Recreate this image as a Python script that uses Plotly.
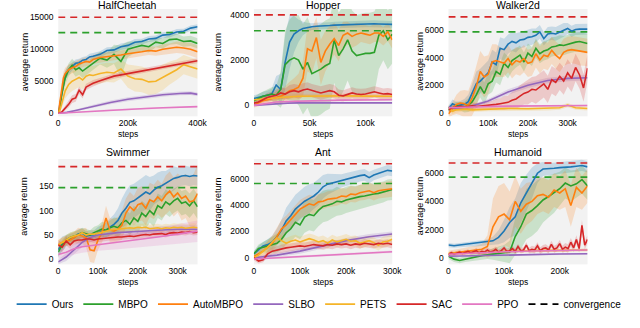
import plotly.graph_objects as go
from plotly.subplots import make_subplots

# steps are stored in thousands (k)

# ---------------- HalfCheetah ----------------
HC_X = [0, 5, 10, 15, 20, 30, 40, 50, 60, 70, 80, 90, 100, 120, 140, 160, 180, 200, 220, 240, 260, 280, 300, 320, 340, 360, 380, 400]
HC_OURS = [0, 1500, 3500, 5000, 5900, 6800, 7300, 7800, 7900, 8300, 8400, 8800, 8900, 9200, 9800, 9900, 10400, 10600, 11100, 11200, 11600, 11700, 12200, 12300, 12700, 12800, 13300, 13500]
HC_OURS_SD = [0, 600, 900, 900, 800, 700, 600, 600, 600, 500, 500, 500, 500, 500, 500, 500, 500, 500, 500, 450, 450, 450, 450, 450, 450, 400, 400, 400]
HC_MBPO = [0, 1000, 3000, 4500, 5500, 6800, 7500, 6800, 7100, 6600, 7000, 7400, 7800, 8600, 8300, 9200, 8100, 10000, 10300, 10600, 10400, 11100, 10900, 11500, 11600, 11200, 11300, 10900]
HC_MBPO_SD = [0, 500, 900, 1000, 1000, 1000, 1000, 1100, 1100, 1100, 1000, 1000, 1000, 1000, 1200, 1500, 2500, 1200, 900, 900, 900, 800, 800, 800, 800, 800, 800, 800]
HC_AUTO = [0, 2000, 4000, 5500, 6200, 6800, 7100, 7300, 7700, 7900, 8100, 8000, 8400, 8700, 8800, 9000, 9100, 9300, 9400, 9600, 9800, 9700, 10000, 10100, 10300, 10200, 10000, 9600]
HC_AUTO_SD = [0, 700, 1000, 1000, 900, 800, 800, 800, 700, 700, 700, 700, 700, 700, 700, 700, 700, 700, 700, 700, 700, 700, 800, 800, 900, 900, 1000, 1000]
HC_PETS = [0, 500, 1500, 2500, 3500, 4500, 5000, 5300, 5600, 5200, 5800, 6000, 5900, 6200, 6400, 6300, 6900, 5800, 5400, 5300, 4900, 5000, 5600, 6300, 6800, 7600, 7200, 6900]
HC_PETS_SD = [0, 300, 700, 1000, 1200, 1500, 1500, 1500, 1500, 1500, 1500, 1500, 1500, 1500, 1500, 1500, 1500, 1800, 2000, 2000, 2000, 2000, 2000, 1800, 1600, 1500, 1500, 1500]
HC_SAC = [0, 100, 200, 500, 800, 1400, 2200, 2400, 3600, 2900, 4100, 4400, 4700, 5100, 5500, 5800, 6000, 6200, 6400, 6600, 6800, 7000, 7300, 7500, 7700, 7900, 8100, 8200]
HC_SAC_SD = [0, 100, 150, 300, 400, 500, 600, 600, 600, 600, 500, 500, 500, 400, 400, 400, 400, 400, 400, 400, 400, 400, 400, 400, 400, 400, 400, 400]
HC_S_X = [0, 25, 50, 100, 150, 200, 250, 300, 350, 380, 400]
HC_SLBO = [0, 150, 450, 1100, 1700, 2200, 2600, 2900, 3100, 3150, 2950]
HC_SLBO_SD = [0, 100, 150, 250, 300, 300, 300, 300, 300, 300, 300]
HC_PPO = [0, 80, 180, 380, 520, 650, 760, 860, 950, 1000, 1050]
HC_PPO_SD = [0, 30, 50, 80, 100, 100, 100, 100, 100, 100, 100]
HC_CONV = [15000, 12600]

# ---------------- Hopper ----------------
HP_X = [0, 4, 8, 12, 16, 20, 24, 28, 32, 36, 40, 44, 48, 52, 56, 60, 64, 68, 72, 76, 80, 84, 88, 92, 96, 100, 104, 108, 112, 116, 120, 124]
HP_OURS = [300, 350, 400, 450, 500, 900, 700, 1900, 2800, 3150, 3300, 3400, 3450, 3480, 3500, 3500, 3520, 3530, 3550, 3560, 3570, 3580, 3590, 3590, 3600, 3600, 3600, 3610, 3600, 3600, 3590, 3580]
HP_OURS_SD = [150, 150, 200, 200, 250, 400, 700, 1200, 1200, 800, 500, 300, 200, 150, 150, 150, 150, 150, 150, 150, 150, 150, 150, 150, 150, 150, 150, 150, 150, 150, 150, 150]
HP_MBPO = [200, 300, 400, 450, 500, 450, 700, 1800, 2000, 2100, 2000, 1600, 1900, 1400, 1500, 1600, 1750, 1850, 2900, 2200, 2500, 2900, 2400, 2200, 2250, 2300, 2300, 2350, 3100, 3300, 2900, 3150]
HP_MBPO_SD = [150, 200, 200, 250, 300, 400, 800, 1500, 1800, 1900, 2000, 2000, 2000, 2000, 2000, 2000, 2000, 2000, 1900, 1900, 1900, 1800, 1800, 1800, 1800, 1800, 1800, 1800, 1500, 1300, 1300, 1300]
HP_AUTO = [0, 100, 200, 250, 300, 350, 400, 500, 650, 700, 800, 1200, 2500, 2400, 3000, 1900, 2400, 2700, 2950, 2650, 3100, 3200, 3050, 3150, 3200, 3150, 3100, 3200, 3200, 3050, 3250, 2900]
HP_AUTO_SD = [100, 150, 150, 200, 200, 250, 300, 350, 400, 500, 600, 800, 1000, 1000, 900, 1000, 900, 800, 700, 700, 600, 500, 500, 500, 400, 400, 400, 400, 400, 400, 400, 400]
HP_SAC = [100, 150, 250, 350, 400, 450, 550, 500, 600, 650, 600, 680, 720, 650, 600, 550, 600, 650, 600, 450, 420, 500, 550, 500, 480, 500, 550, 600, 550, 500, 520, 480]
HP_SAC_SD = [100, 150, 150, 200, 200, 250, 250, 250, 300, 300, 300, 300, 300, 300, 300, 300, 300, 300, 300, 250, 250, 250, 250, 250, 250, 250, 250, 250, 250, 250, 250, 250]
HP_S_X = [0, 10, 20, 30, 40, 60, 80, 100, 124]
HP_PETS = [250, 300, 330, 370, 400, 420, 420, 410, 400]
HP_PETS_SD = [100, 100, 100, 100, 100, 100, 100, 100, 100]
HP_SLBO = [0, 40, 80, 100, 110, 110, 110, 110, 110]
HP_SLBO_SD = [20, 20, 20, 20, 20, 20, 20, 20, 20]
HP_PPO = [0, 80, 150, 170, 190, 210, 230, 240, 250]
HP_PPO_SD = [30, 30, 30, 30, 30, 30, 30, 30, 30]
HP_CONV = [4000, 3300]

# ---------------- Walker2d ----------------
WK_X = [0, 10, 20, 30, 40, 50, 60, 70, 80, 90, 100, 110, 120, 130, 140, 150, 160, 170, 180, 190, 200, 210, 220, 230, 240, 250, 260, 270, 280, 290, 300, 310, 320, 330, 340, 350]
WK_OURS = [300, 650, 500, 550, 600, 800, 1400, 2100, 2300, 2600, 2900, 3700, 3500, 4700, 4600, 5000, 5200, 5100, 5300, 5350, 5500, 5550, 5650, 5900, 5400, 5750, 5800, 5750, 5900, 6050, 6150, 5950, 6080, 6100, 6100, 6100]
WK_OURS_SD = [200, 300, 300, 300, 400, 500, 700, 900, 900, 900, 900, 900, 900, 800, 800, 700, 700, 700, 600, 600, 600, 600, 500, 500, 500, 500, 500, 500, 500, 500, 400, 400, 400, 400, 400, 400]
WK_MBPO = [200, 350, 500, 450, 400, 550, 800, 1300, 1900, 1400, 2100, 2300, 3000, 2800, 3600, 3300, 3800, 4000, 4200, 3700, 4350, 4100, 4700, 4300, 4500, 4600, 4800, 4850, 4950, 4900, 5000, 5100, 5150, 5200, 5100, 5050]
WK_MBPO_SD = [200, 300, 300, 300, 400, 500, 600, 700, 800, 800, 800, 800, 800, 800, 800, 800, 800, 700, 700, 700, 700, 700, 700, 700, 700, 700, 700, 700, 700, 700, 700, 700, 700, 700, 700, 700]
WK_AUTO = [-100, 300, 600, 700, 650, 500, 1100, 1900, 3000, 2600, 2800, 3700, 3800, 3700, 3600, 3950, 3500, 3800, 3700, 3950, 3600, 3700, 4300, 3850, 4200, 4100, 4550, 4200, 3950, 4400, 4550, 4600, 4550, 4450, 4400, 4400]
WK_AUTO_SD = [300, 500, 700, 900, 1000, 1100, 1300, 1500, 1500, 1500, 1400, 1300, 1200, 1100, 1000, 1000, 1000, 1000, 1000, 1000, 1000, 1000, 1000, 1000, 1000, 1000, 1000, 1000, 1000, 1000, 1000, 1000, 1000, 1000, 1000, 1000]
WK_SAC = [200, 350, 400, 450, 400, 450, 500, 450, 480, 500, 500, 550, 600, 650, 700, 750, 900, 1000, 1200, 1400, 1500, 1700, 1650, 1900, 2100, 1700, 2400, 2200, 2650, 2300, 2900, 2500, 3300, 2750, 1800, 3250]
WK_SAC_SD = [200, 200, 200, 200, 200, 200, 250, 250, 250, 300, 300, 300, 400, 400, 500, 500, 600, 700, 800, 800, 900, 900, 1000, 1000, 1000, 1000, 1000, 1000, 1000, 1000, 1000, 1000, 1000, 1000, 1000, 1000]
WK_S_X = [0, 20, 50, 100, 150, 200, 250, 300, 350]
WK_SLBO = [400, 300, 400, 850, 1500, 2000, 2350, 2500, 2550]
WK_SLBO_SD = [100, 100, 100, 150, 200, 200, 200, 200, 200]
WK_PPO = [350, 380, 400, 450, 470, 490, 500, 510, 520]
WK_PPO_SD = [50, 50, 50, 50, 50, 50, 50, 50, 50]
WK_PETS_X = [0, 10, 20, 40, 60, 100, 150, 200, 250, 280, 300, 320, 350]
WK_PETS = [400, 100, 200, 250, 200, 250, 300, 280, 300, 350, 550, 350, 300]
WK_PETS_SD = [200, 200, 200, 150, 150, 150, 150, 150, 150, 150, 150, 150, 150]
WK_CONV = [7000, 5900]

# ---------------- Swimmer ----------------
SW_X = [0, 10, 20, 30, 40, 50, 60, 70, 80, 90, 100, 110, 120, 130, 140, 150, 160, 170, 180, 190, 200, 210, 220, 230, 240, 250, 260, 270, 280, 290, 300, 310, 320, 330, 340, 350]
SW_OURS = [20, 32, 38, 42, 45, 52, 54, 48, 50, 50, 55, 58, 60, 66, 72, 80, 95, 105, 117, 120, 127, 132, 138, 134, 142, 148, 151, 156, 161, 166, 168, 171, 172, 170, 172, 171]
SW_OURS_SD = [15, 15, 12, 10, 10, 10, 10, 10, 10, 10, 12, 12, 15, 18, 20, 25, 30, 35, 35, 35, 35, 35, 35, 35, 30, 30, 30, 25, 25, 25, 20, 20, 20, 20, 20, 20]
SW_MBPO = [15, 30, 40, 45, 48, 50, 55, 52, 50, 55, 58, 62, 60, 65, 68, 65, 75, 80, 72, 85, 78, 95, 88, 100, 92, 110, 105, 118, 112, 120, 125, 115, 118, 110, 120, 108]
SW_MBPO_SD = [10, 10, 10, 10, 10, 10, 10, 10, 10, 12, 12, 15, 15, 15, 18, 20, 20, 22, 22, 25, 25, 25, 25, 25, 25, 25, 25, 25, 25, 25, 25, 25, 25, 25, 25, 25]
SW_AUTO = [30, 35, 38, 40, 45, 50, 48, 45, 20, 18, 40, 55, 85, 60, 58, 62, 70, 95, 108, 100, 112, 115, 105, 122, 118, 128, 120, 132, 140, 128, 136, 125, 130, 118, 120, 135]
SW_AUTO_SD = [10, 10, 10, 12, 12, 15, 15, 20, 25, 25, 20, 20, 25, 25, 25, 25, 30, 30, 30, 30, 35, 35, 35, 35, 35, 35, 35, 40, 40, 40, 40, 45, 45, 50, 55, 60]
SW_PETS = [30, 35, 40, 45, 48, 50, 55, 50, 52, 52, 54, 56, 57, 60, 62, 62, 63, 64, 65, 64, 66, 65, 66, 63, 64, 65, 63, 65, 64, 66, 65, 66, 64, 65, 66, 65]
SW_PETS_SD = [10, 10, 10, 10, 10, 10, 8, 8, 8, 8, 8, 8, 8, 8, 8, 8, 8, 8, 8, 8, 8, 8, 8, 8, 8, 8, 8, 8, 8, 8, 8, 8, 8, 8, 8, 8]
SW_SAC = [30, 25, 38, 30, 38, 40, 40, 42, 42, 40, 42, 43, 44, 45, 45, 46, 46, 47, 48, 47, 49, 50, 51, 50, 52, 52, 53, 51, 54, 55, 54, 56, 55, 57, 55, 56]
SW_SAC_SD = [10, 10, 10, 8, 8, 8, 6, 6, 6, 6, 6, 6, 6, 6, 6, 6, 6, 6, 6, 6, 6, 6, 6, 6, 6, 6, 6, 6, 6, 6, 6, 6, 6, 6, 6, 6]
SW_S_X = [0, 20, 40, 60, 80, 100, 150, 200, 250, 300, 350]
SW_SLBO = [-5, 5, 20, 35, 45, 50, 55, 58, 60, 62, 62]
SW_SLBO_SD = [5, 8, 10, 10, 10, 8, 8, 8, 8, 8, 8]
SW_PPO = [10, 15, 22, 26, 28, 30, 35, 40, 46, 52, 58]
SW_PPO_SD = [8, 10, 12, 12, 12, 12, 14, 16, 18, 20, 22]
SW_CONV = [190, 147]

# ---------------- Ant ----------------
AN_X = [0, 10, 20, 30, 40, 50, 60, 70, 80, 90, 100, 110, 120, 130, 140, 150, 160, 170, 180, 190, 200, 210, 220, 230, 240, 250, 260, 270, 280, 290, 300]
AN_OURS = [300, 600, 900, 1000, 1200, 1600, 2100, 2800, 3200, 3700, 4000, 4300, 4500, 4700, 5000, 5400, 5600, 5700, 5750, 5850, 5950, 6050, 6150, 6250, 6300, 6100, 6300, 6400, 6550, 6650, 6600]
AN_OURS_SD = [200, 300, 300, 400, 500, 600, 800, 1000, 1100, 1100, 1100, 1100, 1100, 1000, 1000, 900, 800, 700, 600, 500, 500, 500, 500, 450, 450, 450, 400, 400, 400, 400, 400]
AN_MBPO = [300, 700, 800, 900, 950, 1100, 1400, 1900, 2200, 2700, 2500, 3100, 3300, 3200, 3600, 3900, 4000, 4100, 4300, 4250, 4400, 4500, 4550, 4650, 4700, 4800, 4850, 4900, 5000, 5150, 5200]
AN_MBPO_SD = [200, 300, 400, 500, 600, 700, 800, 900, 1000, 1100, 1100, 1200, 1200, 1200, 1200, 1200, 1200, 1100, 1100, 1000, 1000, 1000, 900, 900, 900, 900, 800, 800, 800, 800, 800]
AN_AUTO = [100, 300, 500, 800, 1100, 1600, 2200, 2500, 2900, 3300, 3700, 3900, 4100, 4000, 4250, 4300, 4450, 4500, 4550, 4700, 4650, 4850, 4800, 4950, 5000, 5100, 4950, 5100, 5150, 5200, 5250]
AN_AUTO_SD = [200, 300, 400, 500, 600, 700, 700, 700, 700, 700, 700, 700, 700, 700, 600, 600, 600, 600, 600, 600, 600, 600, 600, 600, 600, 600, 600, 600, 600, 600, 600]
AN_PETS = [0, 200, 500, 800, 1200, 1500, 1300, 1100, 1250, 1350, 1200, 1300, 1450, 1350, 1200, 1300, 1100, 1350, 1200, 1300, 1400, 1250, 1300, 1100, 1200, 1300, 1150, 950, 1200, 1250, 1400]
AN_PETS_SD = [100, 200, 300, 400, 400, 400, 400, 400, 400, 400, 400, 400, 400, 400, 400, 400, 400, 400, 400, 400, 400, 400, 400, 400, 400, 400, 400, 400, 400, 400, 400]
AN_SAC = [0, -250, -150, 300, 500, 600, 700, 750, 800, 850, 900, 850, 950, 1000, 950, 900, 1000, 950, 1050, 1000, 1050, 950, 1050, 1000, 1100, 1050, 1000, 1100, 1050, 1100, 1000]
AN_SAC_SD = [200, 200, 200, 250, 250, 300, 300, 300, 300, 300, 300, 300, 300, 300, 300, 300, 300, 300, 300, 300, 300, 300, 300, 300, 300, 300, 300, 300, 300, 300, 300]
AN_S_X = [0, 50, 100, 150, 200, 250, 300]
AN_SLBO = [0, 200, 500, 900, 1300, 1600, 1800]
AN_SLBO_SD = [100, 150, 200, 200, 200, 200, 200]
AN_PPO = [-100, 0, 100, 200, 300, 400, 450]
AN_PPO_SD = [80, 80, 100, 100, 100, 100, 100]
AN_CONV = [7150, 5650]

# ---------------- Humanoid ----------------
HM_X = [0, 10, 20, 30, 40, 50, 60, 70, 80, 90, 100, 110, 120, 130, 140, 150, 160, 170, 180, 190, 200, 210, 220, 230, 240, 250]
HM_OURS = [900, 850, 900, 950, 950, 1000, 1050, 1100, 1200, 1450, 1900, 2500, 2900, 3900, 4600, 5300, 6000, 6300, 6300, 6350, 6400, 6400, 6450, 6500, 6550, 6450]
HM_OURS_SD = [150, 150, 150, 150, 150, 200, 200, 200, 300, 500, 800, 1100, 1300, 1400, 1300, 1100, 700, 500, 400, 400, 400, 400, 400, 400, 400, 400]
HM_MBPO = [100, -100, -200, -100, 0, 100, 150, 200, 250, 300, 300, 400, 1500, 2200, 3100, 3350, 3700, 4100, 4350, 4600, 4900, 5300, 5100, 5250, 5550, 5100]
HM_MBPO_SD = [200, 200, 200, 200, 200, 250, 300, 300, 400, 500, 600, 800, 1300, 1600, 1800, 1800, 1800, 1600, 1500, 1400, 1200, 1100, 1100, 1000, 1000, 1000]
HM_AUTO = [300, 350, 400, 450, 500, 550, 600, 800, 2200, 2900, 3100, 2700, 4000, 3300, 3800, 4000, 4400, 4500, 4300, 4800, 4600, 4900, 3700, 5000, 4600, 5100]
HM_AUTO_SD = [200, 200, 200, 250, 300, 300, 400, 800, 2000, 2200, 2200, 2000, 1800, 1600, 1500, 1400, 1300, 1200, 1200, 1200, 1200, 1300, 1500, 1400, 1200, 1200]
HM_SAC_X = [0, 5, 10, 15, 20, 25, 30, 35, 40, 45, 50, 55, 60, 65, 70, 75, 80, 85, 90, 95, 100, 105, 110, 115, 120, 125, 130, 135, 140, 145, 150, 155, 160, 165, 170, 175, 180, 185, 190, 195, 200, 205, 210, 215, 220, 225, 230, 235, 240, 245, 250]
HM_SAC = [200, 350, 250, 300, 400, 300, 350, 450, 350, 400, 500, 350, 450, 400, 550, 400, 450, 600, 400, 500, 700, 450, 500, 650, 450, 800, 500, 550, 900, 500, 600, 550, 850, 500, 650, 700, 550, 950, 600, 700, 1000, 600, 750, 650, 1100, 700, 1300, 650, 2300, 900, 1300]
HM_SAC_SD = [100, 150, 150, 150, 150, 150, 150, 150, 150, 150, 200, 200, 200, 200, 200, 200, 200, 200, 200, 200, 200, 200, 200, 200, 200, 200, 200, 200, 200, 200, 250, 250, 250, 250, 250, 250, 250, 250, 250, 250, 250, 250, 300, 300, 300, 300, 300, 300, 400, 300, 300]
HM_S_X = [0, 50, 100, 150, 200, 250]
HM_PETS = [300, 380, 450, 500, 520, 550]
HM_PETS_SD = [100, 100, 100, 100, 100, 100]
HM_SLBO = [100, 150, 200, 230, 260, 280]
HM_SLBO_SD = [60, 60, 60, 60, 60, 60]
HM_PPO = [250, 350, 420, 480, 520, 550]
HM_PPO_SD = [80, 80, 80, 80, 80, 80]
HM_CONV = [6730, 5720]

# ---------------- ticks ----------------
HC_XTICKS, HC_XLABELS = [0, 200, 400], ["0", "200k", "400k"]
HP_XTICKS, HP_XLABELS = [0, 50, 100], ["0", "50k", "100k"]
K300_XTICKS, K300_XLABELS = [0, 100, 200, 300], ["0", "100k", "200k", "300k"]
HM_XTICKS, HM_XLABELS = [0, 100, 200], ["0", "100k", "200k"]
HC_YTICKS = [0, 5000, 10000, 15000]
HP_YTICKS = [0, 2000, 4000]
K6_YTICKS = [0, 2000, 4000, 6000]
SW_YTICKS = [0, 50, 100, 150]

NAMES = ["Ours", "MBPO", "AutoMBPO", "SLBO", "PETS", "SAC", "PPO"]
COLORS = {
    "Ours": "#1f77b4", "MBPO": "#2ca02c", "AutoMBPO": "#ff7f0e", "SLBO": "#9467bd",
    "PETS": "#f5b428", "SAC": "#d62728", "PPO": "#e377c2",
}
FONT = "Liberation Sans, Arial, sans-serif"
W, H = 640, 328
COL_PX = [(57.3, 199.3), (256.7, 397.7), (455, 596.7)]
ROW_PX = [(9, 117), (160, 266)]


def band_color(hex_color, alpha=0.2):
    h = hex_color.lstrip("#")
    r, g, b = int(h[0:2], 16), int(h[2:4], 16), int(h[4:6], 16)
    return f"rgba({r},{g},{b},{alpha})"


PANELS = [
    dict(title="HalfCheetah", row=1, col=1, xr=[0, 400], yr=[-465, 16290],
         xt=(HC_XTICKS, HC_XLABELS), yt=HC_YTICKS, conv=HC_CONV,
         series={"Ours": (HC_X, HC_OURS, HC_OURS_SD), "MBPO": (HC_X, HC_MBPO, HC_MBPO_SD),
                 "AutoMBPO": (HC_X, HC_AUTO, HC_AUTO_SD), "SLBO": (HC_S_X, HC_SLBO, HC_SLBO_SD),
                 "PETS": (HC_X, HC_PETS, HC_PETS_SD), "SAC": (HC_X, HC_SAC, HC_SAC_SD),
                 "PPO": (HC_S_X, HC_PPO, HC_PPO_SD)}),
    dict(title="Hopper", row=1, col=2, xr=[0, 124], yr=[-483, 4264],
         xt=(HP_XTICKS, HP_XLABELS), yt=HP_YTICKS, conv=HP_CONV,
         series={"Ours": (HP_X, HP_OURS, HP_OURS_SD), "MBPO": (HP_X, HP_MBPO, HP_MBPO_SD),
                 "AutoMBPO": (HP_X, HP_AUTO, HP_AUTO_SD), "SLBO": (HP_S_X, HP_SLBO, HP_SLBO_SD),
                 "PETS": (HP_S_X, HP_PETS, HP_PETS_SD), "SAC": (HP_X, HP_SAC, HP_SAC_SD),
                 "PPO": (HP_S_X, HP_PPO, HP_PPO_SD)}),
    dict(title="Walker2d", row=1, col=3, xr=[0, 350], yr=[-270, 7576],
         xt=(K300_XTICKS, K300_XLABELS), yt=K6_YTICKS, conv=WK_CONV,
         series={"Ours": (WK_X, WK_OURS, WK_OURS_SD), "MBPO": (WK_X, WK_MBPO, WK_MBPO_SD),
                 "AutoMBPO": (WK_X, WK_AUTO, WK_AUTO_SD), "SLBO": (WK_S_X, WK_SLBO, WK_SLBO_SD),
                 "PETS": (WK_PETS_X, WK_PETS, WK_PETS_SD), "SAC": (WK_X, WK_SAC, WK_SAC_SD),
                 "PPO": (WK_S_X, WK_PPO, WK_PPO_SD)}),
    dict(title="Swimmer", row=2, col=1, xr=[0, 350], yr=[-10, 205.6],
         xt=(K300_XTICKS, K300_XLABELS), yt=SW_YTICKS, conv=SW_CONV,
         series={"Ours": (SW_X, SW_OURS, SW_OURS_SD), "MBPO": (SW_X, SW_MBPO, SW_MBPO_SD),
                 "AutoMBPO": (SW_X, SW_AUTO, SW_AUTO_SD), "SLBO": (SW_S_X, SW_SLBO, SW_SLBO_SD),
                 "PETS": (SW_X, SW_PETS, SW_PETS_SD), "SAC": (SW_X, SW_SAC, SW_SAC_SD),
                 "PPO": (SW_S_X, SW_PPO, SW_PPO_SD)}),
    dict(title="Ant", row=2, col=2, xr=[0, 300], yr=[-507, 7513],
         xt=(K300_XTICKS, K300_XLABELS), yt=K6_YTICKS, conv=AN_CONV,
         series={"Ours": (AN_X, AN_OURS, AN_OURS_SD), "MBPO": (AN_X, AN_MBPO, AN_MBPO_SD),
                 "AutoMBPO": (AN_X, AN_AUTO, AN_AUTO_SD), "SLBO": (AN_S_X, AN_SLBO, AN_SLBO_SD),
                 "PETS": (AN_X, AN_PETS, AN_PETS_SD), "SAC": (AN_X, AN_SAC, AN_SAC_SD),
                 "PPO": (AN_S_X, AN_PPO, AN_PPO_SD)}),
    dict(title="Humanoid", row=2, col=3, xr=[0, 250], yr=[-473, 7009],
         xt=(HM_XTICKS, HM_XLABELS), yt=K6_YTICKS, conv=HM_CONV,
         series={"Ours": (HM_X, HM_OURS, HM_OURS_SD), "MBPO": (HM_X, HM_MBPO, HM_MBPO_SD),
                 "AutoMBPO": (HM_X, HM_AUTO, HM_AUTO_SD), "SLBO": (HM_S_X, HM_SLBO, HM_SLBO_SD),
                 "PETS": (HM_S_X, HM_PETS, HM_PETS_SD), "SAC": (HM_SAC_X, HM_SAC, HM_SAC_SD),
                 "PPO": (HM_S_X, HM_PPO, HM_PPO_SD)}),
]

fig = make_subplots(rows=2, cols=3)
annotations = []

for i, p in enumerate(PANELS):
    r, c = p["row"], p["col"]
    first = i == 0
    # shaded std bands
    for name in NAMES:
        x, m, sd = p["series"][name]
        assert len(x) == len(m) == len(sd), (p["title"], name)
        up = [a + b for a, b in zip(m, sd)]
        lo = [a - b for a, b in zip(m, sd)]
        fig.add_trace(go.Scatter(x=x + x[::-1], y=up + lo[::-1], mode="lines", fill="toself",
                                 fillcolor=band_color(COLORS[name]), line=dict(width=0),
                                 hoverinfo="skip", showlegend=False), row=r, col=c)
    # convergence levels
    xs = [p["xr"][0], p["xr"][1]]
    for val, col in zip(p["conv"], [COLORS["SAC"], COLORS["MBPO"]]):
        fig.add_trace(go.Scatter(x=xs, y=[val, val], mode="lines", showlegend=False,
                                 line=dict(color=col, width=1.6, dash="7px,5px")), row=r, col=c)
    # mean curves
    for name in NAMES:
        x, m, sd = p["series"][name]
        fig.add_trace(go.Scatter(x=x, y=m, mode="lines", name=name, legendgroup=name,
                                 showlegend=first, line=dict(color=COLORS[name], width=1.6)),
                      row=r, col=c)

    x0, x1 = COL_PX[c - 1]
    y0, y1 = ROW_PX[r - 1]
    fig.update_xaxes(domain=[x0 / W, x1 / W], range=p["xr"], tickvals=p["xt"][0],
                     ticktext=p["xt"][1], row=r, col=c)
    fig.update_yaxes(domain=[1 - y1 / H, 1 - y0 / H], range=p["yr"], tickvals=p["yt"],
                     tickformat="d", row=r, col=c)

    cx = (x0 + x1) / 2 / W
    title_y = 5 if r == 1 else 153.3
    steps_y = 134.5 if r == 1 else 283.5
    ylab_y = 62 if r == 1 else 207.5
    ylab_x = [23, 220, 426][c - 1]
    annotations.append(dict(text=p["title"], x=cx, y=1 - title_y / H, xref="paper", yref="paper",
                            showarrow=False, xanchor="center", yanchor="middle",
                            font=dict(size=10.5, color="#000")))
    annotations.append(dict(text="steps", x=cx, y=1 - steps_y / H, xref="paper", yref="paper",
                            showarrow=False, xanchor="center", yanchor="middle",
                            font=dict(size=8.5, color="#000")))
    annotations.append(dict(text="average return", x=ylab_x / W, y=1 - ylab_y / H, xref="paper",
                            yref="paper", showarrow=False, textangle=-90, xanchor="center",
                            yanchor="middle", font=dict(size=9, color="#000")))

# legend entry for the dashed convergence levels
fig.add_trace(go.Scatter(x=[None], y=[None], mode="lines", name="convergence",
                         line=dict(color="black", width=1.6, dash="7px,5px")))

fig.update_xaxes(showgrid=False, zeroline=False, showline=False, ticks="",
                 tickfont=dict(size=8.5, color="#000"))
fig.update_yaxes(showgrid=False, zeroline=False, showline=False, ticks="outside", ticklen=2,
                 tickcolor="rgba(0,0,0,0)", tickfont=dict(size=8.5, color="#000"))

fig.update_layout(
    width=W, height=H, autosize=False,
    margin=dict(l=0, r=0, t=0, b=0),
    paper_bgcolor="white", plot_bgcolor="#f2f2f2",
    font=dict(family=FONT, color="#000"),
    annotations=annotations,
    legend=dict(orientation="h", x=0.505, xanchor="center", y=1 - 306 / H, yanchor="middle",
                font=dict(size=10), itemwidth=30, bgcolor="rgba(0,0,0,0)", traceorder="normal"),
)

# drop the browser's default body margin so the figure sits at the window's corner
fig.write_html("out.html", config={"displayModeBar": False},
               post_script="document.body.style.margin='0';")
